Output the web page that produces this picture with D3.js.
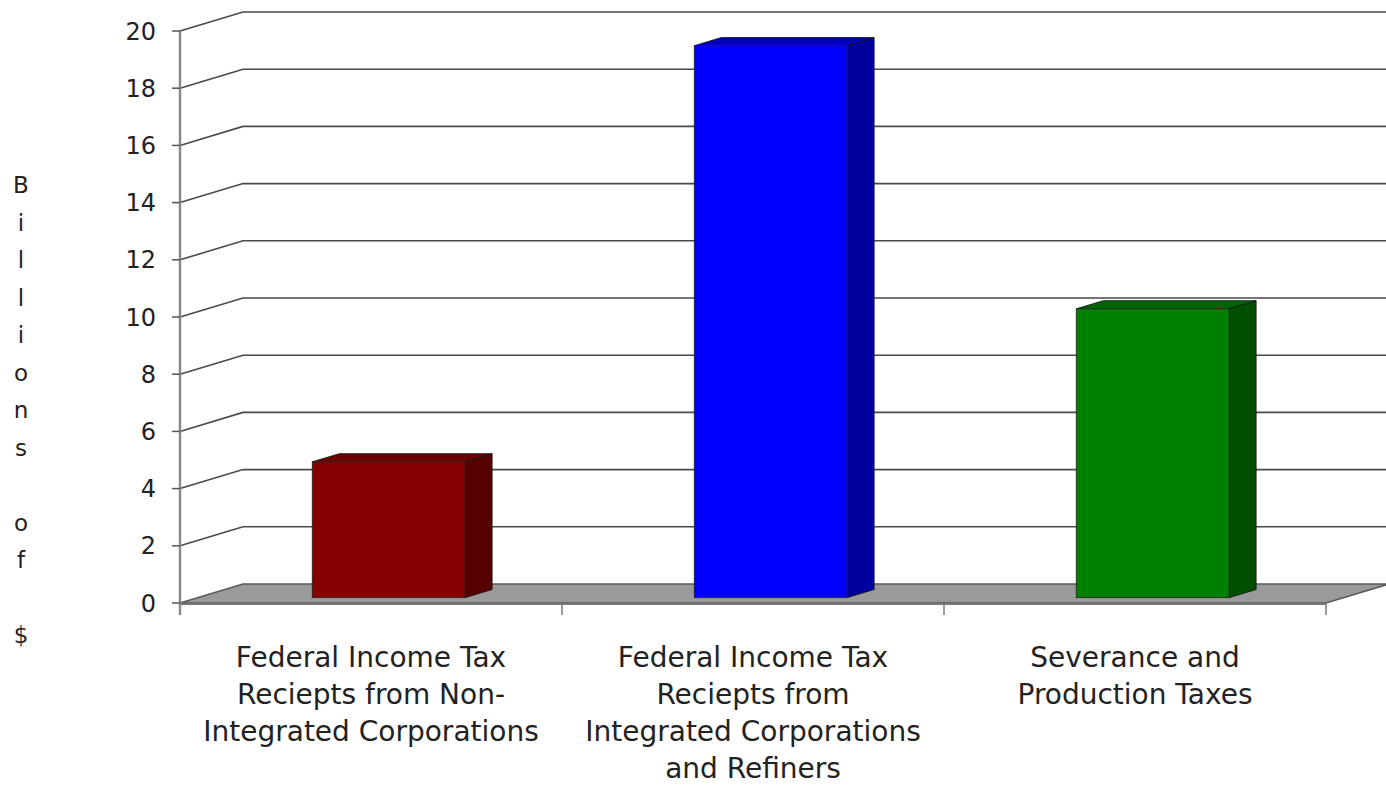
<!DOCTYPE html>
<html>
<head>
<meta charset="utf-8">
<script src="https://cdnjs.cloudflare.com/ajax/libs/d3/7.8.5/d3.min.js"></script>
<style>
  body { margin: 0; background: #fff; }
  svg { display: block; }
</style>
</head>
<body>
<div id="chart"></div>
<script>
var categories = [
  ["Federal Income Tax", "Reciepts from Non-", "Integrated Corporations"],
  ["Federal Income Tax", "Reciepts from", "Integrated Corporations", "and Refiners"],
  ["Severance and", "Production Taxes"]
];
var values = [4.75, 19.3, 10.1];
var yTicks = [0, 2, 4, 6, 8, 10, 12, 14, 16, 18, 20];
var yTitle = ["B", "i", "l", "l", "i", "o", "n", "s", "", "o", "f", "", "$"];

// bar colours: front, side, top
var barColors = [
  { front: "#870000", side: "#560000", top: "#6a0000" },
  { front: "#0000ff", side: "#00009c", top: "#0000b8" },
  { front: "#008000", side: "#004e00", top: "#006400" }
];

var width = 1386, height = 786;
var depthX = 63, depthY = -19;   // offset of the back wall
var barFront = 0.28, barBack = 0.71; // bar position inside the depth

var svg = d3.select("#chart").append("svg")
  .attr("width", width)
  .attr("height", height)
  .attr("font-family", "Tahoma, 'DejaVu Sans', sans-serif");

var idx = categories.map(function(d, i) { return i; });

var x = d3.scaleBand()
  .domain(idx)
  .range([180, 1326])
  .paddingInner(0.6)
  .paddingOuter(0.3);

var xEdges = d3.scaleLinear().domain([0, 3]).range([180, 1326]);

var y = d3.scaleLinear()
  .domain([0, 20])
  .range([603, 31]);

// floor
svg.append("polygon")
  .attr("points", [
    [180, y(0)], [180 + depthX, y(0) + depthY],
    [1326 + depthX, y(0) + depthY], [1326, y(0)]
  ].map(function(p) { return p.join(","); }).join(" "))
  .attr("fill", "#9a9a9a")
  .attr("stroke", "#5a5a5a")
  .attr("stroke-width", 1.5);
svg.append("line")
  .attr("x1", 180).attr("x2", 1326)
  .attr("y1", y(0) + 1).attr("y2", y(0) + 1)
  .attr("stroke", "#777").attr("stroke-width", 2);

// gridlines (side diagonal + back wall)
svg.append("g").selectAll("path")
  .data(yTicks.filter(function(d) { return d > 0; }))
  .enter().append("path")
    .attr("d", function(d) {
      return "M180," + y(d) + "L" + (180 + depthX) + "," + (y(d) + depthY) + "L" + width + "," + (y(d) + depthY);
    })
    .attr("fill", "none")
    .attr("stroke", "#4a4a4a")
    .attr("stroke-width", 1.6);

// value axis
svg.append("line")
  .attr("x1", 180).attr("x2", 180)
  .attr("y1", y(20)).attr("y2", y(0) + 12)
  .attr("stroke", "#8a8a8a").attr("stroke-width", 2.5);

svg.append("g").selectAll("line")
  .data(yTicks)
  .enter().append("line")
    .attr("x1", 172).attr("x2", 180)
    .attr("y1", function(d) { return y(d); })
    .attr("y2", function(d) { return y(d); })
    .attr("stroke", "#555").attr("stroke-width", 1.5);

svg.append("g").selectAll("text")
  .data(yTicks)
  .enter().append("text")
    .attr("x", 156)
    .attr("y", function(d) { return y(d); })
    .attr("dy", "0.36em")
    .attr("text-anchor", "end")
    .attr("font-size", 24)
    .attr("fill", "#222")
    .text(function(d) { return d; });

// category ticks
svg.append("g").selectAll("line")
  .data([1, 2, 3])
  .enter().append("line")
    .attr("x1", function(d) { return xEdges(d); })
    .attr("x2", function(d) { return xEdges(d); })
    .attr("y1", y(0)).attr("y2", y(0) + 12)
    .attr("stroke", "#777").attr("stroke-width", 1.5);

// bars
var bars = svg.append("g").selectAll("g")
  .data(values)
  .enter().append("g");

function pt(px, py) { return px + "," + py; }

bars.each(function(v, i) {
  var g = d3.select(this);
  var fx = x(i) + depthX * barFront, fy = depthY * barFront;
  var bx = x(i) + depthX * barBack, by = depthY * barBack;
  var w = x.bandwidth();
  var top = y(v), base = y(0);
  var c = barColors[i];
  // side face
  g.append("polygon")
    .attr("points", [pt(fx + w, top + fy), pt(bx + w, top + by), pt(bx + w, base + by), pt(fx + w, base + fy)].join(" "))
    .attr("fill", c.side).attr("stroke", "#111").attr("stroke-width", 0.8);
  // top face
  g.append("polygon")
    .attr("points", [pt(fx, top + fy), pt(bx, top + by), pt(bx + w, top + by), pt(fx + w, top + fy)].join(" "))
    .attr("fill", c.top).attr("stroke", "#111").attr("stroke-width", 0.8);
  // front face
  g.append("rect")
    .attr("x", fx).attr("y", top + fy)
    .attr("width", w).attr("height", base - top)
    .attr("fill", c.front).attr("stroke", "#222").attr("stroke-width", 0.8);
});

// category labels
var labels = svg.append("g").selectAll("text")
  .data(categories)
  .enter().append("text")
    .attr("x", function(d, i) { return x(i) + x.bandwidth() / 2; })
    .attr("y", 667)
    .attr("text-anchor", "middle")
    .attr("font-size", 28)
    .attr("fill", "#222");
labels.selectAll("tspan")
  .data(function(d) { return d; })
  .enter().append("tspan")
    .attr("x", function() { return d3.select(this.parentNode).attr("x"); })
    .attr("dy", function(d, j) { return j === 0 ? 0 : 37; })
    .text(function(d) { return d; });

// y axis title, letters stacked
svg.append("g").selectAll("text")
  .data(yTitle)
  .enter().append("text")
    .attr("x", 21)
    .attr("y", function(d, i) { return 193 + i * 37.5; })
    .attr("text-anchor", "middle")
    .attr("font-size", 23)
    .attr("fill", "#222")
    .text(function(d) { return d; });
</script>
</body>
</html>
